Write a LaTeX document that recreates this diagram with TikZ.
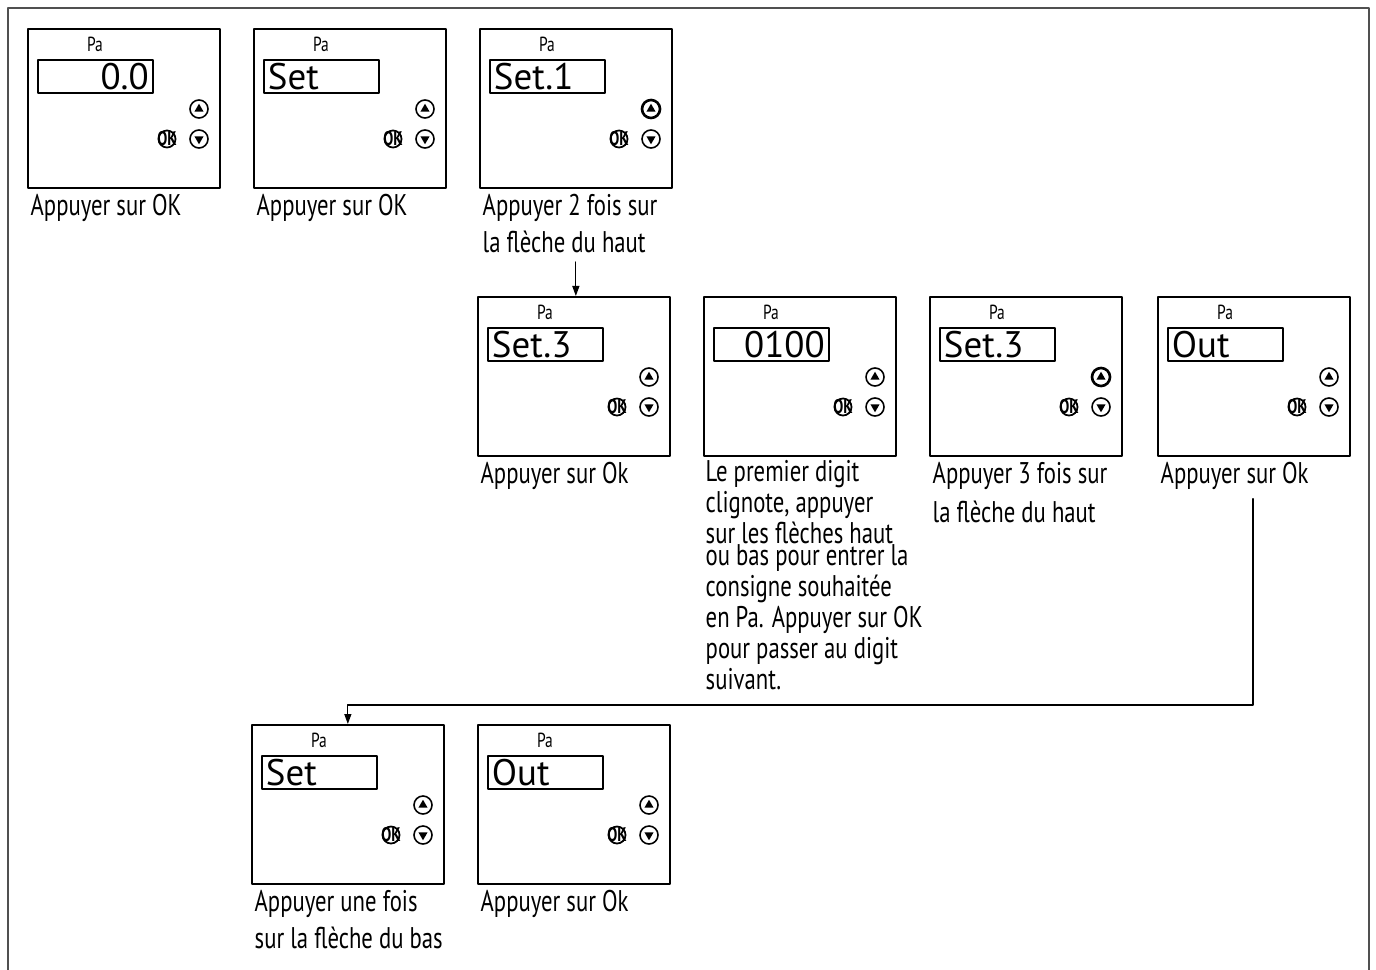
\documentclass[tikz,border=0pt]{standalone}
\usepackage{fontspec}
\setmainfont{PT Sans}
\newfontfamily\narrowfont[FakeStretch=0.76]{PT Sans}
\usepackage{tikz}
\usetikzlibrary{positioning,calc,arrows.meta,shapes.geometric}

\definecolor{framegray}{HTML}{505050}

\tikzset{
	panel/.style={draw=black, line width=0.45pt, minimum width=1.92cm, minimum height=1.59cm, inner sep=0pt, anchor=north west},
	screen/.style={draw=black, line width=0.45pt, minimum width=1.15cm, minimum height=0.33cm, inner sep=0pt, anchor=north west},
	readout/.style={font=\fontsize{10.5}{12}\selectfont, inner xsep=1.2pt, inner ysep=0pt},
	unit/.style={font=\narrowfont\fontsize{5.8}{7}\selectfont, inner sep=0pt},
	btn/.style={draw=black, circle, minimum size=0.18cm, inner sep=0pt},
	okbtn/.style={draw=black, line width=0.5pt, circle, minimum size=0.17cm, inner sep=0pt},
	oktext/.style={font=\narrowfont\bfseries\fontsize{5.6}{6}\selectfont, inner sep=0pt},
	tri/.style={regular polygon, regular polygon sides=3, fill=black, minimum size=0.105cm, inner sep=0pt},
	caption/.style={anchor=north west, inner sep=0pt, align=left, font=\narrowfont\fontsize{8.5}{10.5}\selectfont},
	flow/.style={draw=black, line width=0.35pt, -{Triangle[length=0.1cm, width=0.07cm]}},
}

\begin{document}
\begin{tikzpicture}[
				x=0.01cm,y=-0.01cm,
				line cap=round,line join=round
				]
				% ---- page
				\useasboundingbox (0,0) rectangle (1376,970);
				\draw[framegray, line width=0.6pt] (8,970) -- (8,8) -- (1369,8) -- (1369,970);
				
				% ---- panels: name/x/y/reading/side/up button width
				\foreach \i/\x/\y/\val/\side/\lw in {
					1/27/28/0.0/east/0.45pt,
					2/253/28/Set/west/0.45pt,
					3/479/28/Set.1/west/0.75pt,
					4/477/296/Set.3/west/0.45pt,
					5/703/296/0100/east/0.45pt,
					6/929/296/Set.3/west/0.75pt,
					7/1157/296/Out/west/0.45pt,
					8/251/724/Set/west/0.45pt,
					9/477/724/Out/west/0.45pt}{
					\node[panel] (p\i) at (\x,\y) {};
					\node[unit] (p\i-pa) at ($(p\i.north west)+(68,16)$) {Pa};
					\node[screen] (p\i-scr) at ($(p\i.north west)+(10,31)$) {};
					\node[readout, anchor=\side] (p\i-val) at (p\i-scr.\side) {\val};
					% buttons
					\node[btn, line width=\lw] (p\i-up) at ($(p\i.north west)+(172,81)$) {};
					\node[tri] (p\i-upt) at (p\i-up) {};
					\node[btn, line width=0.45pt] (p\i-dn) at ($(p\i.north west)+(172,111)$) {};
					\node[tri, shape border rotate=180] (p\i-dnt) at (p\i-dn) {};
					\node[okbtn] (p\i-ok) at ($(p\i.north west)+(140,111)$) {};
					\node[oktext] (p\i-okt) at (p\i-ok) {OK};
				}
				
				% ---- captions
				\node[caption] (l1) at ($(p1.south west)+(3,5)$) {Appuyer sur OK};
				\node[caption] (l2) at ($(p2.south west)+(3,5)$) {Appuyer sur OK};
				\node[caption] (l3) at ($(p3.south west)+(3,5)$) {Appuyer 2 fois sur\\la flèche du haut};
				\node[caption] (l4) at ($(p4.south west)+(3,5)$) {Appuyer sur Ok};
				\node[caption, font=\narrowfont\fontsize{8.5}{8.8}\selectfont] (l5) at ($(p5.south west)+(2,3)$)
					{Le premier digit\\clignote, appuyer\\sur les flèches haut\\[-2.5pt]ou bas pour entrer la\\consigne souhaitée\\en Pa. Appuyer sur OK\\pour passer au digit\\suivant.};
				\node[caption, font=\narrowfont\fontsize{8.5}{11.1}\selectfont] (l6) at ($(p6.south west)+(3,5)$) {Appuyer 3 fois sur\\la flèche du haut};
				\node[caption] (l7) at ($(p7.south west)+(3,5)$) {Appuyer sur Ok};
				\node[caption] (l8) at ($(p8.south west)+(3,5)$) {Appuyer une fois\\sur la flèche du bas};
				\node[caption] (l9) at ($(p9.south west)+(3,5)$) {Appuyer sur Ok};
				
				% ---- connectors
				\coordinate (a1) at ($(p4.north)+(2,-34)$);
				\draw[flow] (a1) -- (a1 |- p4.north);
				\coordinate (b1) at ($(p7.south west)+(96,42)$);
				\coordinate (b2) at ($(p8.north)+(0,-19)$);
				\draw[flow] (b1) |- (b2) -- (p8.north);
			\end{tikzpicture}
\end{document}
